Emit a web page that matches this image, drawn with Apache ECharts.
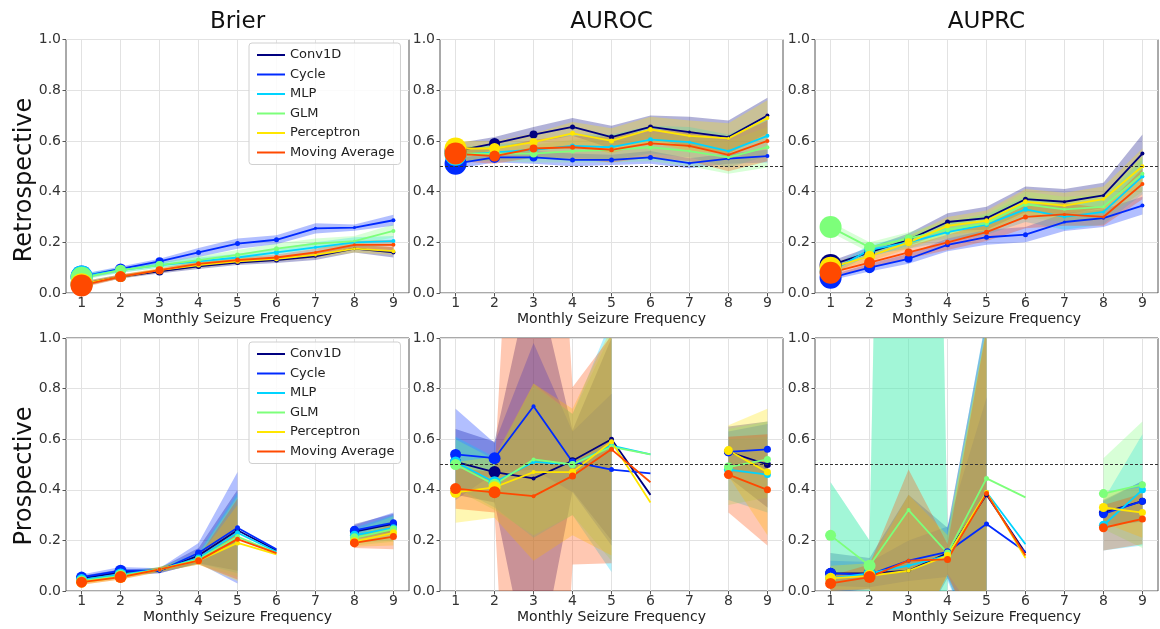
<!DOCTYPE html>
<html><head><meta charset="utf-8">
<script src="https://cdn.jsdelivr.net/npm/echarts@6/dist/echarts.min.js"></script>
<style>html,body{margin:0;padding:0;background:#fff}#c{width:1160px;height:629px}</style>
</head><body><div id="c"></div>
<script>
const models = ['Conv1D', 'Cycle', 'MLP', 'GLM', 'Perceptron', 'Moving Average'];
const modelColors = ['#00007f', '#002aff', '#00d4ff', '#7dff7a', '#ffe600', '#ff4900'];
const xValues = [1, 2, 3, 4, 5, 6, 7, 8, 9];
const xTickValues = [1, 2, 3, 4, 5, 6, 7, 8, 9];
const metricTitles = ['Brier', 'AUROC', 'AUPRC'];
const rowTitles = ['Retrospective', 'Prospective'];
const xAxisTitle = 'Monthly Seizure Frequency';
const chanceLevel = 0.5;
const retroMarkerSize = [22, 11, 8, 5, 5, 5, 3, 3, 4];
const prospMarkerSize = [11, 12, 4, 7, 5, 0, 0, 9, 7];

// rows: Conv1D, Cycle, MLP, GLM, Perceptron, Moving Average
const brierRetroMean = [
  [0.035, 0.065, 0.085, 0.105, 0.12, 0.13, 0.145, 0.175, 0.16],
  [0.065, 0.095, 0.125, 0.16, 0.195, 0.21, 0.255, 0.258, 0.287],
  [0.065, 0.09, 0.11, 0.125, 0.14, 0.16, 0.18, 0.2, 0.205],
  [0.06, 0.09, 0.11, 0.13, 0.15, 0.175, 0.195, 0.205, 0.245],
  [0.035, 0.065, 0.09, 0.11, 0.125, 0.135, 0.15, 0.175, 0.165],
  [0.03, 0.065, 0.09, 0.115, 0.13, 0.14, 0.16, 0.19, 0.19]
];
const brierRetroErr = [
  [0.01, 0.008, 0.008, 0.01, 0.01, 0.012, 0.015, 0.015, 0.02],
  [0.01, 0.01, 0.01, 0.018, 0.02, 0.018, 0.02, 0.012, 0.022],
  [0.01, 0.01, 0.01, 0.015, 0.015, 0.015, 0.02, 0.02, 0.02],
  [0.01, 0.01, 0.01, 0.015, 0.02, 0.02, 0.02, 0.02, 0.025],
  [0.01, 0.008, 0.008, 0.01, 0.01, 0.01, 0.012, 0.015, 0.015],
  [0.01, 0.008, 0.008, 0.01, 0.01, 0.012, 0.015, 0.015, 0.02]
];
const aurocRetroMean = [
  [0.56, 0.59, 0.625, 0.655, 0.615, 0.655, 0.635, 0.615, 0.70],
  [0.51, 0.535, 0.535, 0.525, 0.525, 0.535, 0.512, 0.53, 0.54],
  [0.545, 0.555, 0.565, 0.58, 0.575, 0.605, 0.595, 0.56, 0.62],
  [0.55, 0.55, 0.55, 0.56, 0.565, 0.575, 0.56, 0.535, 0.575],
  [0.57, 0.57, 0.595, 0.63, 0.60, 0.645, 0.62, 0.61, 0.69],
  [0.55, 0.54, 0.57, 0.575, 0.565, 0.59, 0.58, 0.545, 0.60]
];
const aurocRetroErr = [
  [0.03, 0.025, 0.03, 0.035, 0.045, 0.045, 0.06, 0.065, 0.07],
  [0.02, 0.02, 0.025, 0.025, 0.02, 0.025, 0.02, 0.02, 0.025],
  [0.03, 0.03, 0.035, 0.045, 0.05, 0.055, 0.06, 0.065, 0.08],
  [0.03, 0.03, 0.035, 0.045, 0.05, 0.055, 0.06, 0.065, 0.08],
  [0.03, 0.03, 0.035, 0.045, 0.05, 0.05, 0.06, 0.06, 0.07],
  [0.03, 0.03, 0.035, 0.045, 0.05, 0.055, 0.06, 0.065, 0.08]
];
const auprcRetroMean = [
  [0.11, 0.16, 0.21, 0.28, 0.295, 0.37, 0.36, 0.385, 0.55],
  [0.06, 0.10, 0.135, 0.19, 0.22, 0.23, 0.28, 0.295, 0.345],
  [0.085, 0.17, 0.20, 0.24, 0.27, 0.33, 0.30, 0.32, 0.46],
  [0.26, 0.18, 0.215, 0.25, 0.275, 0.35, 0.33, 0.34, 0.47],
  [0.10, 0.145, 0.20, 0.265, 0.285, 0.36, 0.345, 0.37, 0.50],
  [0.08, 0.12, 0.16, 0.20, 0.24, 0.30, 0.31, 0.30, 0.43]
];
const auprcRetroErr = [
  [0.015, 0.02, 0.025, 0.035, 0.045, 0.05, 0.05, 0.05, 0.075],
  [0.01, 0.015, 0.02, 0.025, 0.03, 0.03, 0.035, 0.035, 0.035],
  [0.015, 0.02, 0.025, 0.035, 0.04, 0.05, 0.05, 0.05, 0.07],
  [0.02, 0.02, 0.025, 0.035, 0.04, 0.05, 0.05, 0.05, 0.07],
  [0.015, 0.02, 0.025, 0.035, 0.04, 0.05, 0.05, 0.05, 0.07],
  [0.015, 0.02, 0.025, 0.03, 0.035, 0.045, 0.045, 0.035, 0.06]
];
const brierProspMean = [
  [0.05, 0.075, 0.08, 0.14, 0.24, 0.16, null, 0.235, 0.265],
  [0.055, 0.08, 0.08, 0.15, 0.25, 0.165, null, 0.24, 0.27],
  [0.045, 0.065, 0.085, 0.13, 0.23, 0.155, null, 0.22, 0.25],
  [0.04, 0.06, 0.085, 0.125, 0.215, 0.15, null, 0.21, 0.245],
  [0.035, 0.055, 0.085, 0.12, 0.19, 0.145, null, 0.195, 0.23],
  [0.035, 0.055, 0.085, 0.12, 0.205, 0.15, null, 0.19, 0.215]
];
const brierProspErr = [
  [0.01, 0.01, 0.01, 0.03, 0.16, null, null, 0.03, 0.04],
  [0.01, 0.015, 0.01, 0.04, 0.22, null, null, 0.02, 0.04],
  [0.01, 0.01, 0.01, 0.02, 0.16, null, null, 0.03, 0.05],
  [0.01, 0.01, 0.01, 0.02, 0.16, null, null, 0.03, 0.05],
  [0.01, 0.01, 0.01, 0.015, 0.15, null, null, 0.02, 0.05],
  [0.01, 0.01, 0.01, 0.015, 0.16, null, null, 0.02, 0.05]
];
const aurocProspMean = [
  [0.51, 0.47, 0.445, 0.515, 0.60, 0.38, null, 0.55, 0.50],
  [0.54, 0.525, 0.73, 0.51, 0.48, 0.465, null, 0.55, 0.56],
  [0.51, 0.43, 0.51, 0.50, 0.575, 0.54, null, 0.48, 0.46],
  [0.50, 0.42, 0.52, 0.50, 0.57, 0.54, null, 0.49, 0.52],
  [0.39, 0.41, 0.47, 0.47, 0.59, 0.35, null, 0.555, 0.47],
  [0.405, 0.39, 0.375, 0.455, 0.56, 0.43, null, 0.46, 0.40]
];
const aurocProspErr = [
  [0.13, 0.12, 0.85, 0.12, 0.4, null, null, 0.1, 0.17],
  [0.18, 0.06, 0.25, 0.12, 0.3, null, null, 0.08, 0.1],
  [0.1, 0.1, 0.3, 0.2, 0.5, null, null, 0.12, 0.15],
  [0.1, 0.1, 0.3, 0.2, 0.45, null, null, 0.15, 0.15],
  [0.12, 0.12, 0.35, 0.25, 0.45, null, null, 0.1, 0.25],
  [0.08, 0.08, 3.0, 0.35, 0.45, null, null, 0.15, 0.22]
];
const auprcProspMean = [
  [0.07, 0.07, 0.08, 0.15, 0.38, 0.15, null, 0.31, 0.355],
  [0.07, 0.065, 0.12, 0.155, 0.265, 0.155, null, 0.305, 0.355],
  [0.05, 0.07, 0.10, 0.14, 0.39, 0.185, null, 0.26, 0.40],
  [0.22, 0.10, 0.32, 0.15, 0.445, 0.37, null, 0.385, 0.42],
  [0.05, 0.06, 0.08, 0.14, 0.39, 0.13, null, 0.33, 0.31],
  [0.03, 0.055, 0.12, 0.125, 0.385, 0.14, null, 0.25, 0.285]
];
const auprcProspErr = [
  [0.08, 0.06, 0.3, 0.1, 0.7, null, null, 0.05, 0.08],
  [0.05, 0.05, 0.08, 0.1, 0.5, null, null, 0.05, 0.08],
  [0.38, 0.13, 8, 0.1, 0.7, null, null, 0.1, 0.22],
  [0.21, 0.1, 8, 0.08, 0.6, null, null, 0.14, 0.25],
  [0.05, 0.05, 0.3, 0.08, 0.65, null, null, 0.06, 0.1],
  [0.03, 0.05, 0.36, 0.06, 0.65, null, null, 0.09, 0.1]
];

const FONT = 'DejaVu Sans';
const panels = [
  { mean: brierRetroMean, err: brierRetroErr, row: 0, col: 0, sizes: retroMarkerSize, chance: false },
  { mean: aurocRetroMean, err: aurocRetroErr, row: 0, col: 1, sizes: retroMarkerSize, chance: true },
  { mean: auprcRetroMean, err: auprcRetroErr, row: 0, col: 2, sizes: retroMarkerSize, chance: true },
  { mean: brierProspMean, err: brierProspErr, row: 1, col: 0, sizes: prospMarkerSize, chance: false },
  { mean: aurocProspMean, err: aurocProspErr, row: 1, col: 1, sizes: prospMarkerSize, chance: true },
  { mean: auprcProspMean, err: auprcProspErr, row: 1, col: 2, sizes: prospMarkerSize, chance: true }
];
const gridLefts = [66, 440, 815];
const gridWidth = 343;
const gridTops = [39.5, 338];
const gridHeights = [253.5, 253];

function hexA(hex, a) {
  const n = parseInt(hex.slice(1), 16);
  return 'rgba(' + ((n >> 16) & 255) + ',' + ((n >> 8) & 255) + ',' + (n & 255) + ',' + a + ')';
}
function buildRuns(mean, err) {
  const runs = [];
  let cur = null;
  for (let i = 0; i < xValues.length; i++) {
    if (mean[i] != null && err[i] != null) {
      if (!cur) { cur = []; runs.push(cur); }
      cur.push(i);
    } else cur = null;
  }
  return runs.filter(r => r.length > 1);
}

const grids = [], xAxes = [], yAxes = [], series = [];
panels.forEach((p, pi) => {
  grids.push({ left: gridLefts[p.col], top: gridTops[p.row], width: gridWidth, height: gridHeights[p.row],
    show: true, borderColor: '#555', borderWidth: 1, backgroundColor: 'transparent' });
  xAxes.push({ gridIndex: pi, type: 'value', min: 0.6, max: 9.4,
    name: xAxisTitle, nameLocation: 'middle', nameGap: 19,
    nameTextStyle: { fontSize: 14, fontFamily: FONT, color: '#222' },
    axisLine: { show: false },
    axisTick: { show: true, length: 3.5, lineStyle: { color: '#555' }, customValues: xTickValues },
    axisLabel: { customValues: xTickValues, fontSize: 14, fontFamily: FONT, color: '#333', margin: 3,
      formatter: v => String(Math.round(v)) },
    splitLine: { show: true, lineStyle: { color: '#e2e2e2', width: 1 } } });
  yAxes.push({ gridIndex: pi, type: 'value', min: 0, max: 1, interval: 0.2,
    axisLine: { show: false },
    axisTick: { show: true, length: 3.5, lineStyle: { color: '#555' } },
    axisLabel: { fontSize: 14, fontFamily: FONT, color: '#333', margin: 5, formatter: v => v.toFixed(1) },
    splitLine: { show: true, lineStyle: { color: '#e2e2e2', width: 1 } } });
  models.forEach((m, mi) => {
    const mean = p.mean[mi], err = p.err[mi], color = modelColors[mi];
    const runs = buildRuns(mean, err);
    series.push({
      type: 'custom', name: m + ' band', xAxisIndex: pi, yAxisIndex: pi, clip: true, silent: true,
      data: runs.map((r, ri) => [xValues[r[0]], ri]),
      renderItem: function (params, api) {
        const r = runs[params.dataIndex];
        const pts = [];
        r.forEach(i => pts.push(api.coord([xValues[i], mean[i] + err[i]])));
        r.slice().reverse().forEach(i => pts.push(api.coord([xValues[i], mean[i] - err[i]])));
        return { type: 'polygon', shape: { points: pts }, style: { fill: hexA(color, 0.3), stroke: null } };
      }
    });
    const s = {
      type: 'line', name: m, xAxisIndex: pi, yAxisIndex: pi,
      data: xValues.map((x, i) => [x, mean[i] == null ? '-' : mean[i]]),
      connectNulls: false, symbol: 'circle', showSymbol: true, showAllSymbol: true,
      symbolSize: (v, params) => p.sizes[params.dataIndex],
      lineStyle: { color: color, width: 1.8 }, itemStyle: { color: color, borderWidth: 0 },
      emphasis: { disabled: true }, silent: true
    };
    if (p.chance && mi === models.length - 1) {
      s.markLine = { silent: true, symbol: 'none', label: { show: false },
        lineStyle: { color: '#333', type: [3, 2], width: 1 }, data: [{ yAxis: chanceLevel }] };
    }
    series.push(s);
  });
});

const legendBase = {
  orient: 'vertical', left: 249, itemWidth: 28, itemHeight: 2, itemGap: 3.5, icon: 'rect',
  data: models.map((m, i) => ({ name: m, icon: 'rect', itemStyle: { color: modelColors[i] } })),
  textStyle: { fontSize: 13, fontFamily: FONT, color: '#222', lineHeight: 16 },
  backgroundColor: 'rgba(255,255,255,0.85)', borderColor: '#d0d0d0', borderWidth: 1, borderRadius: 3,
  padding: [4, 6, 4, 8], selectedMode: false
};

const graphics = [];
metricTitles.forEach((t, i) => {
  graphics.push({ type: 'text', x: gridLefts[i] + gridWidth / 2, y: 22,
    style: { text: t, fontSize: 23, fontFamily: FONT, fill: '#111', align: 'center', verticalAlign: 'middle' } });
});
const rowCenters = [180, 476];
rowTitles.forEach((t, i) => {
  graphics.push({ type: 'text', x: 25, y: rowCenters[i], rotation: Math.PI / 2,
    style: { text: t, fontSize: 24, fontFamily: FONT, fill: '#111', align: 'center', verticalAlign: 'middle' } });
});

const chart = echarts.init(document.getElementById('c'), null, { renderer: 'canvas' });
chart.setOption({
  animation: false,
  backgroundColor: '#fff',
  grid: grids, xAxis: xAxes, yAxis: yAxes, series: series,
  legend: [Object.assign({}, legendBase, { top: 43 }), Object.assign({}, legendBase, { top: 342 })],
  graphic: graphics
});
</script></body></html>
